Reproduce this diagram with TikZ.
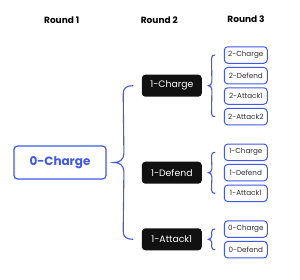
\documentclass[tikz,border=0pt]{standalone}
\usepackage{fontspec}
\setmainfont{Poppins}
\usetikzlibrary{calc}
\definecolor{bl}{RGB}{66,88,232}
\definecolor{dk}{RGB}{17,17,17}
\definecolor{tx}{RGB}{45,45,50}
\tikzset{
  hdr/.style={font=\bfseries\fontsize{9}{10}\selectfont, text=black},
  rootbox/.style={draw=bl, line width=1.2pt, rounded corners=3.5pt, minimum width=92pt, minimum height=33pt, inner sep=0pt, text=bl, font=\bfseries\fontsize{12}{14}\selectfont},
  midbox/.style={fill=dk, rounded corners=3.5pt, minimum width=60pt, minimum height=22pt, inner sep=0pt, text=white, font=\fontsize{9.3}{11}\selectfont},
  leafbox/.style={draw=bl, line width=1pt, rounded corners=3.5pt, minimum width=43pt, minimum height=16.5pt, inner sep=0pt, text=tx, font=\fontsize{7.2}{8}\selectfont},
  brc/.style={draw=bl, line width=1.1pt, line cap=round}
}
\begin{document}
\begin{tikzpicture}[x=1pt,y=-1pt]
\useasboundingbox[fill=white] (0,0) rectangle (300,279);
% headers
\node[hdr] (h1) at (61.7,20.7) {Round 1};
\node[hdr] (h2) at (159.3,20) {Round 2};
\node[hdr] (h3) at (246,19) {Round 3};
% root
\node[rootbox] (r0) at (60,162.5) {0-Charge};
% round 2
\node[midbox] (a) at (171.8,85.7) {1-Charge};
\node[midbox] (b) at (171.8,172.7) {1-Defend};
\node[midbox] (c) at (171.8,239.3) {1-Attack1};
% round 3
\node[leafbox] (a1) at (245.8,55) {2-Charge};
\node[leafbox] (a2) at (245.8,75.7) {2-Defend};
\node[leafbox] (a3) at (245.8,96) {2-Attack1};
\node[leafbox] (a4) at (245.8,116.7) {2-Attack2};
\node[leafbox] (b1) at (245.8,152.3) {1-Charge};
\node[leafbox] (b2) at (245.8,172.7) {1-Defend};
\node[leafbox] (b3) at (245.8,193.3) {1-Attack1};
\node[leafbox] (c1) at (245.8,229) {0-Charge};
\node[leafbox] (c2) at (245.8,249.7) {0-Defend};
% big brace
\coordinate (T0) at ($(a.west)+(-8.7,0)$);
\coordinate (B0) at ($(c.west)+(-8.7,0)$);
\coordinate (M0) at ($(r0.east)+(7.3,0)$);
\path[brc] (T0) .. controls ($(T0)+(-6,0)$) and ($(T0)+(-9.7,2)$) .. ($(T0)+(-9.7,8)$)
  -- ($(M0)+(10,-9)$) .. controls ($(M0)+(10,-2.5)$) and ($(M0)+(5,0)$) .. (M0)
  .. controls ($(M0)+(5,0)$) and ($(M0)+(10,2.5)$) .. ($(M0)+(10,9)$)
  -- ($(B0)+(-9.7,-8)$) .. controls ($(B0)+(-9.7,-2)$) and ($(B0)+(-6,0)$) .. (B0);
% small braces
\newcommand\smallbrace[3]{%
  \coordinate (st) at ($(#2.west)+(-9,0)$);
  \coordinate (sb) at ($(#3.west)+(-9,0)$);
  \coordinate (sm) at ($(#1.east)+(6.5,0)$);
  \path[brc] (st) .. controls ($(st)+(-2,0)$) and ($(st)+(-3.3,1)$) .. ($(st)+(-3.3,3.5)$)
    -- ($(sm)+(3.4,-4)$) .. controls ($(sm)+(3.4,-1.2)$) and ($(sm)+(1.5,0)$) .. (sm)
    .. controls ($(sm)+(1.5,0)$) and ($(sm)+(3.4,1.2)$) .. ($(sm)+(3.4,4)$)
    -- ($(sb)+(-3.3,-3.5)$) .. controls ($(sb)+(-3.3,-1)$) and ($(sb)+(-2,0)$) .. (sb);
}
\smallbrace{a}{a1}{a4}
\smallbrace{b}{b1}{b3}
\smallbrace{c}{c1}{c2}
\end{tikzpicture}
\end{document}
